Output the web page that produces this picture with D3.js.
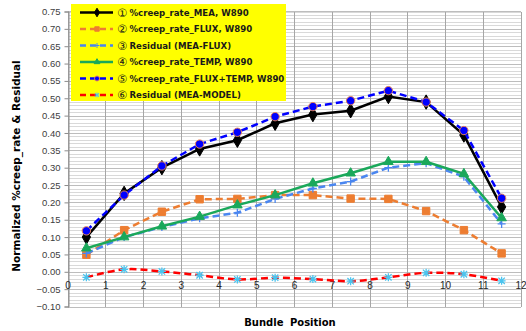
<!DOCTYPE html>
<html>
<head>
<meta charset="utf-8">
<script src="https://cdn.jsdelivr.net/npm/d3@7"></script>
<style>
  body { margin: 0; background: #fff; }
  svg { display: block; font-family: "DejaVu Sans", Verdana, sans-serif; }
  .grid line { shape-rendering: crispEdges; }
</style>
</head>
<body>
<div id="chart"></div>
<script>
// bundle positions
var positions = [0.5, 1.5, 2.5, 3.5, 4.5, 5.5, 6.5, 7.5, 8.5, 9.5, 10.5, 11.5];

var creepMEA      = [0.100, 0.226, 0.300, 0.354, 0.379, 0.428, 0.453, 0.464, 0.505, 0.489, 0.394, 0.187];
var creepFLUX     = [0.049, 0.120, 0.173, 0.209, 0.210, 0.221, 0.221, 0.211, 0.210, 0.175, 0.120, 0.053];
var residFlux     = [0.053, 0.100, 0.129, 0.154, 0.170, 0.210, 0.240, 0.260, 0.300, 0.313, 0.274, 0.138];
var creepTEMP     = [0.068, 0.100, 0.131, 0.159, 0.192, 0.221, 0.255, 0.284, 0.317, 0.317, 0.282, 0.155];
var creepFluxTemp = [0.118, 0.221, 0.305, 0.368, 0.402, 0.447, 0.476, 0.493, 0.522, 0.489, 0.407, 0.212];
var residModel    = [-0.016, 0.007, 0.001, -0.010, -0.022, -0.017, -0.021, -0.027, -0.016, -0.003, -0.007, -0.026];

var seriesNums = ["\u2460", "\u2461", "\u2462", "\u2463", "\u2464", "\u2465"];
var seriesNames = [
  "%creep_rate_MEA, W890",
  "%creep_rate_FLUX, W890",
  "Residual (MEA-FLUX)",
  "%creep_rate_TEMP, W890",
  "%creep_rate_FLUX+TEMP, W890",
  "Residual (MEA-MODEL)"
];

var xTicks = d3.range(0, 13, 1);
var yTicks = d3.range(-0.10, 0.7501, 0.05);

var width = 526, height = 331;

var svg = d3.select("#chart")
    .append("svg")
    .attr("width", width)
    .attr("height", height);

var x = d3.scaleLinear().domain([0, 12]).range([67.5, 520.5]);
var y = d3.scaleLinear().domain([-0.10, 0.75]).range([306.5, 11.5]);

// minor grid every 0.01
svg.append("g")
    .attr("class", "grid")
    .selectAll("line")
    .data(d3.range(-10, 76, 1).map(function (d) { return d / 100; }))
    .enter().append("line")
    .attr("x1", x(0)).attr("x2", x(12))
    .attr("y1", function (d) { return Math.round(y(d)) + 0.5; })
    .attr("y2", function (d) { return Math.round(y(d)) + 0.5; })
    .attr("stroke", "#d9d9d9");

// major horizontal grid
svg.append("g")
    .attr("class", "grid")
    .selectAll("line")
    .data(yTicks)
    .enter().append("line")
    .attr("x1", x(0)).attr("x2", x(12))
    .attr("y1", function (d) { return Math.round(y(d)) + 0.5; })
    .attr("y2", function (d) { return Math.round(y(d)) + 0.5; })
    .attr("stroke", "#bdbdbd");

// vertical grid
svg.append("g")
    .attr("class", "grid")
    .selectAll("line")
    .data(xTicks)
    .enter().append("line")
    .attr("x1", function (d) { return Math.round(x(d)) + 0.5; })
    .attr("x2", function (d) { return Math.round(x(d)) + 0.5; })
    .attr("y1", y(0.75)).attr("y2", y(-0.10))
    .attr("stroke", "#a6a6a6");

// y axis
var yAxis = svg.append("g")
    .attr("transform", "translate(" + (Math.round(x(0)) + 0.5) + ",0)")
    .call(d3.axisLeft(y).tickValues(yTicks).tickSize(4).tickPadding(4)
        .tickFormat(d3.format(".2f")));
yAxis.select(".domain").attr("stroke", "#8c8c8c");
yAxis.selectAll(".tick line").attr("stroke", "#8c8c8c");
yAxis.selectAll("text")
    .attr("fill", "#404040")
    .style("font-size", "9.5px");

// x axis labels just under zero line
var xAxis = svg.append("g")
    .attr("transform", "translate(0," + y(0) + ")")
    .call(d3.axisBottom(x).tickValues(xTicks).tickSize(0).tickPadding(10));
xAxis.select(".domain").remove();
xAxis.selectAll("text")
    .attr("fill", "#262626")
    .style("font-size", "10px");

// titles
svg.append("text")
    .attr("x", 290)
    .attr("y", 326)
    .attr("text-anchor", "middle")
    .style("font-size", "10px")
    .style("font-weight", "bold")
    .style("word-spacing", "3px")
    .text("Bundle Position");

svg.append("text")
    .attr("transform", "translate(20," + 166 + ") rotate(-90)")
    .attr("text-anchor", "middle")
    .style("font-size", "10.5px")
    .style("font-weight", "bold")
    .text("Normalized %creep_rate & Residual");

// series styles
var styles = [
  { data: creepMEA,      color: "#000000", dash: null,  marker: "diamond",  mfill: "#000000", mstroke: "#000000" },
  { data: creepFLUX,     color: "#ed7d31", dash: "7,4", marker: "square",   mfill: "#ed7d31", mstroke: "#ed7d31" },
  { data: residFlux,     color: "#4a86f0", dash: "7,4", marker: "plus",     mfill: "none",    mstroke: "#4a86f0" },
  { data: creepTEMP,     color: "#1aa85a", dash: null,  marker: "triangle", mfill: "#1aa85a", mstroke: "#1aa85a" },
  { data: creepFluxTemp, color: "#0000ff", dash: "7,4", marker: "circle",   mfill: "#0000ff", mstroke: "#e8835a" },
  { data: residModel,    color: "#ff0000", dash: "7,4", marker: "asterisk", mfill: "none",    mstroke: "#4cc4ee", smooth: true }
];

function markerPath(type, k) {
  k = k || 1;
  if (type === "diamond") return d3.symbol().type(d3.symbolDiamond).size(60 * k * k)();
  if (type === "square") return d3.symbol().type(d3.symbolSquare).size(55 * k * k)();
  if (type === "triangle") return d3.symbol().type(d3.symbolTriangle).size(40 * k * k)();
  if (type === "circle") return d3.symbol().type(d3.symbolCircle).size(55 * k * k)();
  if (type === "plus") return "M" + (-4 * k) + ",0H" + (4 * k) + "M0," + (-4 * k) + "V" + (4 * k);
  if (type === "asterisk") {
    var a = 4 * k, b = 3.2 * k;
    return "M" + (-a) + ",0H" + a + "M0," + (-a) + "V" + a +
      "M" + (-b) + "," + (-b) + "L" + b + "," + b + "M" + (-b) + "," + b + "L" + b + "," + (-b);
  }
}

var plot = svg.append("g");

styles.forEach(function (s) {
  var line = d3.line()
      .x(function (d, i) { return x(positions[i]); })
      .y(function (d) { return y(d); });
  if (s.smooth) line.curve(d3.curveCatmullRom);

  plot.append("path")
      .datum(s.data)
      .attr("fill", "none")
      .attr("stroke", s.color)
      .attr("stroke-width", 2.5)
      .attr("stroke-dasharray", s.dash)
      .attr("d", line);

  plot.selectAll(null)
      .data(s.data)
      .enter().append("path")
      .attr("transform", function (d, i) { return "translate(" + x(positions[i]) + "," + y(d) + ")"; })
      .attr("d", markerPath(s.marker))
      .attr("fill", s.mfill)
      .attr("stroke", s.mstroke)
      .attr("stroke-width", s.marker === "plus" || s.marker === "asterisk" ? 1.3 : 1);
});

// legend
var legend = svg.append("g");
legend.append("rect")
    .attr("x", 71).attr("y", 4)
    .attr("width", 215).attr("height", 97)
    .attr("fill", "#ffff00");

var rows = legend.selectAll("g.row")
    .data(styles)
    .enter().append("g")
    .attr("class", "row")
    .attr("transform", function (d, i) { return "translate(0," + (12.5 + i * 16.5) + ")"; });

rows.append("line")
    .attr("x1", 80).attr("x2", 113)
    .attr("stroke", function (d) { return d.color; })
    .attr("stroke-width", 2.5)
    .attr("stroke-dasharray", function (d) { return d.dash ? "6,4" : null; });

rows.append("path")
    .attr("transform", "translate(97,0)")
    .attr("d", function (d) { return markerPath(d.marker, 0.6); })
    .attr("fill", function (d) { return d.mfill; })
    .attr("stroke", function (d) { return d.mstroke; })
    .attr("stroke-width", 1);

// circled number
rows.append("text")
    .attr("x", 117)
    .attr("dy", "0.36em")
    .attr("fill", "#1a1a1a")
    .style("font-family", "'DejaVu Sans', sans-serif")
    .style("font-size", "11.5px")
    .text(function (d, i) { return seriesNums[i]; });

rows.append("text")
    .attr("x", 129.5)
    .attr("dy", "0.35em")
    .attr("fill", "#1a1a1a")
    .style("font-size", "8.6px")
    .style("font-weight", "bold")
    .text(function (d, i) { return seriesNames[i]; });
</script>
</body>
</html>
